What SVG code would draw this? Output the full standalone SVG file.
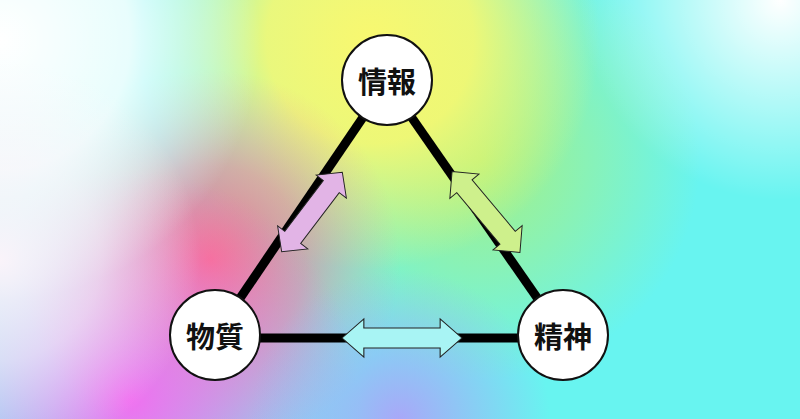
<svg xmlns="http://www.w3.org/2000/svg" width="800" height="419" viewBox="0 0 800 419">
<defs>
<radialGradient id="y" cx="370" cy="40" r="230" gradientUnits="userSpaceOnUse"><stop offset="0" stop-color="#f8f870"/><stop offset="0.45" stop-color="#f8f870" stop-opacity="0.9"/><stop offset="1" stop-color="#f8f870" stop-opacity="0"/></radialGradient>
<radialGradient id="g" cx="480" cy="160" r="220" gradientUnits="userSpaceOnUse"><stop offset="0" stop-color="#a8f080"/><stop offset="1" stop-color="#a8f080" stop-opacity="0"/></radialGradient>
<radialGradient id="r" cx="210" cy="260" r="190" gradientUnits="userSpaceOnUse"><stop offset="0" stop-color="#f87080"/><stop offset="0.5" stop-color="#f88090" stop-opacity="0.6"/><stop offset="1" stop-color="#f8a0a0" stop-opacity="0"/></radialGradient>
<radialGradient id="m" cx="130" cy="400" r="230" gradientUnits="userSpaceOnUse"><stop offset="0" stop-color="#f070f0"/><stop offset="1" stop-color="#f070f0" stop-opacity="0"/></radialGradient>
<radialGradient id="b" cx="400" cy="419" r="150" gradientUnits="userSpaceOnUse"><stop offset="0" stop-color="#a8a8f8"/><stop offset="1" stop-color="#a8a8f8" stop-opacity="0"/></radialGradient>
<radialGradient id="w" cx="0" cy="40" r="260" gradientUnits="userSpaceOnUse"><stop offset="0" stop-color="#ffffff"/><stop offset="0.5" stop-color="#ffffff" stop-opacity="0.85"/><stop offset="1" stop-color="#ffffff" stop-opacity="0"/></radialGradient>
<radialGradient id="w3" cx="0" cy="260" r="200" gradientUnits="userSpaceOnUse"><stop offset="0" stop-color="#fff4fa" stop-opacity="0.95"/><stop offset="0.5" stop-color="#fff4fa" stop-opacity="0.6"/><stop offset="1" stop-color="#fff4fa" stop-opacity="0"/></radialGradient>
<radialGradient id="w2" cx="780" cy="0" r="200" gradientUnits="userSpaceOnUse"><stop offset="0" stop-color="#ffffff"/><stop offset="1" stop-color="#ffffff" stop-opacity="0"/></radialGradient>
<path id="arr" d="M-55,0 L-35,-19 L-35,-10 L35,-10 L35,-19 L55,0 L35,19 L35,10 L-35,10 L-35,19 Z"/>
</defs>
<style>
.n{fill:#fff;stroke:#111;stroke-width:2}
.t{font-family:"Noto Sans CJK JP",sans-serif;font-size:29px;font-weight:bold;fill:#111;text-anchor:middle;dominant-baseline:central}
.l{stroke:#000;stroke-width:9}
.a{stroke:#222;stroke-width:1}
</style>
<rect width="800" height="419" fill="#68f4f0"/>
<rect width="800" height="419" fill="url(#g)"/>
<rect width="800" height="419" fill="url(#y)"/>
<rect width="800" height="419" fill="url(#r)"/>
<rect width="800" height="419" fill="url(#m)"/>
<rect width="800" height="419" fill="url(#b)"/>
<rect width="800" height="419" fill="url(#w)"/>
<rect width="800" height="419" fill="url(#w3)"/>
<rect width="800" height="419" fill="url(#w2)"/>
<g id="connectors">
<line class="l" x1="387" y1="82" x2="215" y2="335"/>
<line class="l" x1="387" y1="82" x2="563" y2="335"/>
<line class="l" x1="215" y1="338" x2="563" y2="338"/>
<use href="#arr" class="a" fill="#a8f4f4" transform="translate(402,338) scale(1.09,1)"/>
<use href="#arr" class="a" fill="#e2b4e6" transform="translate(312,212) rotate(-52.7) scale(0.91,1)"/>
<use href="#arr" class="a" fill="#cef08c" transform="translate(486,212) rotate(50) scale(0.96,1)"/>
</g>
<g id="n1"><circle class="n" cx="387" cy="80" r="45"/><text class="t" x="387" y="80">情報</text></g>
<g id="n2"><circle class="n" cx="215" cy="335" r="45"/><text class="t" x="215" y="335">物質</text></g>
<g id="n3"><circle class="n" cx="563" cy="335" r="45"/><text class="t" x="563" y="335">精神</text></g>
</svg>
